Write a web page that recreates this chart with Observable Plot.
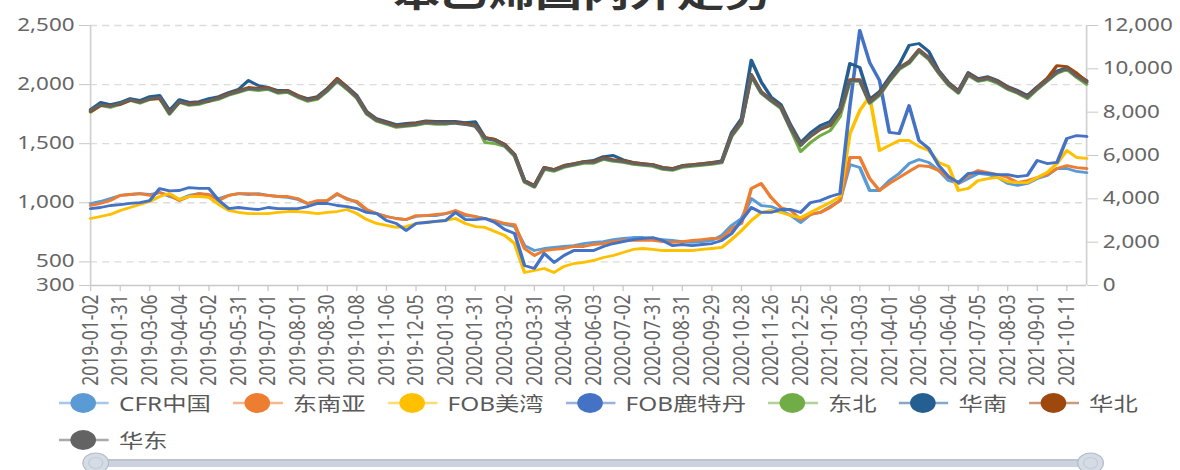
<!DOCTYPE html>
<html><head><meta charset="utf-8">
<script src="https://cdn.jsdelivr.net/npm/d3@7"></script>
<script src="https://cdn.jsdelivr.net/npm/@observablehq/plot@0.6"></script>
<style>
html,body{margin:0;padding:0;background:#fff;overflow:hidden;width:1180px;height:470px;}
#wrap{position:relative;width:922px;height:470px;transform:scaleX(1.28);transform-origin:0 0;font-family:"Noto Sans","Noto Sans CJK SC",sans-serif;}
#title{position:absolute;left:0;width:910px;top:-27px;text-align:center;font-size:37px;line-height:1;font-weight:bold;color:#333;font-family:"Noto Sans CJK SC",sans-serif;white-space:nowrap;}
#chart{position:absolute;left:0;top:0;}
#legend{position:absolute;left:46px;top:391px;width:850px;display:flex;flex-wrap:wrap;column-gap:17px;row-gap:13px;font-size:19px;color:#595959;font-family:"Noto Sans","Noto Sans CJK SC",sans-serif;}
.item{display:flex;align-items:center;height:24px;white-space:nowrap;}
.item svg{margin-right:8px;display:block;}
#zoom{position:absolute;left:0;top:445px;}
</style></head>
<body><div id="wrap"><div id="title">苯乙烯国内外走势</div><div id="chart"></div><div id="legend"></div>
<svg id="zoom" width="922" height="25">
<rect x="74.8" y="14" width="777" height="8" rx="3" fill="#cdd3de"/>
<rect x="74.8" y="14" width="777" height="2" fill="#bcc4d0"/>
<circle cx="74.8" cy="18" r="10" fill="#d6dce5" stroke="#b4bcc8"/>
<circle cx="74.8" cy="18" r="5.5" fill="none" stroke="#c3cad5"/>
<circle cx="852" cy="18" r="10" fill="#d6dce5" stroke="#b4bcc8"/>
<circle cx="852" cy="18" r="5.5" fill="none" stroke="#c3cad5"/>
</svg>
</div>
<script>
// ---- data ----
const tickLabels = ["2019-01-02","2019-01-31","2019-03-06","2019-04-04","2019-05-02","2019-05-31","2019-07-01","2019-08-01","2019-08-30","2019-10-08","2019-11-06","2019-12-05","2020-01-03","2020-01-31","2020-03-02","2020-03-31","2020-04-30","2020-06-03","2020-07-02","2020-07-31","2020-08-31","2020-09-29","2020-10-28","2020-11-26","2020-12-25","2021-01-26","2021-03-03","2021-04-01","2021-05-06","2021-06-04","2021-07-05","2021-08-03","2021-09-01","2021-10-11"];
const names = ["CFR中国","东南亚","FOB美湾","FOB鹿特丹","东北","华南","华北","华东"];
const colors = ["#5B9BD5","#ED7D31","#FFC000","#4472C4","#70AD47","#255E91","#9E480E","#636363"];
const leftTicks = [300,500,1000,1500,2000,2500];
const rightTicks = [0,2000,4000,6000,8000,10000,12000];

// USD/t (left axis), sampled every 7 trading days
const cfrChina = [994,1011,1036,1062,1070,1078,1070,1087,1053,1028,
1062,1078,1062,1036,1062,1078,1070,1078,1062,1053,
1045,1028,994,1011,1019,1070,1036,1002,935,909,
884,867,858,884,892,892,909,926,892,884,
867,842,816,799,638,596,613,622,630,638,
655,664,672,689,698,706,706,698,689,681,
672,664,672,681,723,808,867,1036,977,968,
935,892,833,901,918,968,1019,1324,1298,1104,
1104,1188,1248,1332,1366,1341,1273,1188,1163,1205,
1248,1239,1214,1163,1146,1163,1205,1231,1290,1290,
1265,1256];
const seAsia = [977,994,1019,1062,1070,1078,1062,1087,1062,1019,
1053,1078,1070,1019,1062,1078,1078,1070,1062,1053,
1053,1036,994,1019,1019,1078,1028,1011,943,909,
884,867,858,892,892,901,909,935,901,884,
867,850,825,816,613,554,596,605,613,630,
630,647,655,672,681,681,681,681,672,664,
672,681,689,698,698,782,825,1121,1163,1045,
960,935,858,901,918,960,1019,1383,1383,1205,
1104,1163,1214,1265,1315,1307,1273,1214,1171,1231,
1273,1256,1239,1214,1171,1188,1214,1239,1290,1315,
1298,1290];
const fobUSG = [867,884,901,935,960,985,1011,1053,1078,1028,
1053,1053,1045,985,935,918,909,909,909,918,
926,926,918,909,918,926,943,909,858,825,
808,791,799,825,833,842,850,867,825,799,
791,757,723,655,410,427,444,410,461,486,
495,512,537,554,579,605,613,605,596,596,
596,596,605,613,622,689,765,850,918,935,
918,892,875,918,960,1002,1053,1586,1781,1899,
1442,1485,1527,1527,1476,1442,1341,1307,1104,1121,
1188,1205,1214,1180,1171,1171,1214,1256,1332,1442,
1383,1375];
const fobRotterdam = [951,960,977,985,994,1002,1019,1120,1100,1104,
1129,1121,1121,1019,951,960,951,943,960,951,
951,951,968,994,994,977,968,951,918,909,
850,825,765,825,833,842,850,918,858,858,
867,833,774,740,469,444,571,495,554,596,
596,596,630,655,672,689,698,706,681,638,
647,638,647,655,681,740,850,960,918,918,
943,943,918,1002,1019,1053,1078,1823,2458,2187,
2035,1595,1586,1823,1527,1459,1315,1222,1171,1248,
1256,1248,1239,1239,1222,1231,1358,1332,1341,1544,
1569,1561];
// CNY/t (right axis)
const dongbei = [8000,8300,8220,8360,8540,8410,8590,8640,7900,8450,
8310,8360,8500,8590,8780,8910,9050,9000,9050,8870,
8910,8680,8500,8590,8960,9420,9050,8640,7900,7580,
7440,7300,7340,7390,7480,7440,7440,7520,7520,7520,
6600,6550,6420,5960,4760,4530,5360,5270,5450,5540,
5640,5640,5820,5730,5680,5590,5540,5500,5360,5310,
5450,5500,5540,5590,5660,6880,7480,9650,8870,8500,
8170,7200,6180,6600,6920,7150,7800,9420,9420,8400,
8770,9420,9970,10250,10800,10430,9790,9230,8870,9690,
9420,9500,9320,9050,8870,8630,9050,9420,9790,9970,
9600,9280];
const huanan = [8120,8450,8350,8450,8630,8540,8720,8770,8080,8580,
8450,8490,8630,8720,8910,9050,9460,9230,9140,9000,
9000,8770,8630,8720,9100,9550,9180,8770,8030,7700,
7570,7430,7480,7520,7600,7570,7570,7570,7520,7560,
6830,6740,6510,6050,4850,4620,5450,5350,5540,5630,
5720,5770,5950,6000,5800,5680,5630,5580,5450,5400,
5540,5580,5630,5680,5750,7050,7700,10400,9400,8700,
8350,7400,6600,7050,7380,7570,8200,10250,10060,8600,
8950,9600,10200,11080,11170,10800,9920,9370,9000,9830,
9550,9640,9460,9180,9000,8770,9180,9550,9900,10060,
9740,9460];
const huabei = [8030,8300,8310,8350,8540,8490,8590,8630,8000,8450,
8400,8450,8500,8680,8860,9000,9140,9100,9140,8950,
8990,8770,8580,8680,9050,9550,9140,8720,7980,7660,
7520,7380,7430,7480,7570,7520,7520,7520,7480,7400,
6830,6740,6510,6040,4840,4610,5440,5350,5530,5620,
5720,5720,5900,5810,5760,5670,5620,5580,5440,5390,
5530,5580,5620,5670,5720,6970,7570,9740,8950,8580,
8260,7290,6500,6880,7200,7380,8030,9500,9500,8490,
8860,9500,10060,10340,10890,10520,9880,9320,8950,9780,
9500,9590,9410,9140,8950,8720,9140,9550,10150,10100,
9800,9420];
const huadong = [8080,8350,8260,8400,8580,8450,8630,8680,7940,8490,
8350,8400,8540,8630,8820,8950,9090,9050,9090,8910,
8950,8720,8540,8630,9000,9460,9090,8680,7940,7620,
7480,7340,7380,7430,7520,7480,7480,7480,7430,7340,
6780,6690,6460,6000,4800,4570,5400,5310,5490,5580,
5680,5680,5860,5770,5720,5630,5580,5540,5400,5350,
5490,5540,5580,5630,5700,6920,7520,9690,8910,8540,
8220,7250,6460,6920,7250,7430,8080,9460,9460,8450,
8820,9460,10020,10290,10850,10480,9830,9280,8910,9740,
9460,9550,9370,9090,8910,8680,9090,9460,9830,10020,
9650,9370];

const series = [
  {name: names[0], values: cfrChina, axis: "left"},
  {name: names[1], values: seAsia, axis: "left"},
  {name: names[2], values: fobUSG, axis: "left"},
  {name: names[3], values: fobRotterdam, axis: "left"},
  {name: names[4], values: dongbei, axis: "right"},
  {name: names[5], values: huanan, axis: "right"},
  {name: names[6], values: huabei, axis: "right"},
  {name: names[7], values: huadong, axis: "right"}
];

// ---- chart ----
const step = 7, labelEvery = 21;
const lastIdx = (cfrChina.length - 1) * step;
const L0 = 300, L1 = 2500, R1 = 12000;
const toLeft = v => L0 + v * (L1 - L0) / R1;
const toRight = v => (v - L0) * R1 / (L1 - L0);
const rows = [];
series.forEach(s => s.values.forEach((v, k) => rows.push({name: s.name, idx: k * step, v, axis: s.axis})));
const fmt = d3.format(",");
const tickIdx = tickLabels.map((_, i) => i * labelEvery);

const chart = Plot.plot({
  width: 922, height: 395,
  marginLeft: 70.3, marginRight: 73.6, marginTop: 25, marginBottom: 110,
  x: {domain: [0, lastIdx]},
  y: {domain: [L0, L1]},
  color: {domain: names, range: colors},
  style: {fontFamily: '"Noto Sans","Noto Sans CJK SC",sans-serif', fontSize: "17.5px", color: "#666", background: "transparent", overflow: "visible"},
  marks: [
    Plot.gridY(leftTicks.filter(t => t > L0), {stroke: "#dcdcdc", strokeOpacity: 1, strokeWidth: 1.3, strokeDasharray: "5.5,4"}),
    Plot.ruleY([L0], {stroke: "#c8c8c8", strokeWidth: 1.3}),
    Plot.ruleX([0], {stroke: "#d0d0d0", strokeWidth: 1.3}),
    Plot.ruleX([lastIdx], {stroke: "#d0d0d0", strokeWidth: 1.3}),
    Plot.axisY(leftTicks, {anchor: "left", tickFormat: fmt, tickSize: 8.6, tickPadding: 4, stroke: "#c8c8c8", fill: "#666", label: null}),
    Plot.axisY(rightTicks.map(toLeft), {anchor: "right", tickFormat: v => fmt(Math.round(toRight(v))), tickSize: 8.6, tickPadding: 4, stroke: "#c8c8c8", fill: "#666", label: null}),
    Plot.axisX(tickIdx, {anchor: "bottom", tickFormat: d => tickLabels[Math.round(d / labelEvery)], tickRotate: -90, tickSize: 6, tickPadding: 3, stroke: "#c8c8c8", fill: "#666", label: null}),
    Plot.lineY(rows, {x: "idx", y: d => d.axis === "right" ? toLeft(d.v) : d.v, z: "name", stroke: "name", strokeWidth: 2.8, strokeLinejoin: "round"})
  ]
});
document.getElementById("chart").appendChild(chart);

// ---- legend ----
const legend = document.getElementById("legend");
names.forEach((n, i) => {
  const item = document.createElement("div");
  item.className = "item";
  item.innerHTML = `<svg width="39" height="24"><line x1="0" x2="39" y1="12" y2="12" stroke="${colors[i]}" stroke-width="2.5" stroke-opacity="0.55"/><circle cx="19" cy="12" r="10" fill="${colors[i]}"/></svg><span>${n}</span>`;
  legend.appendChild(item);
});
</script>
</body></html>
